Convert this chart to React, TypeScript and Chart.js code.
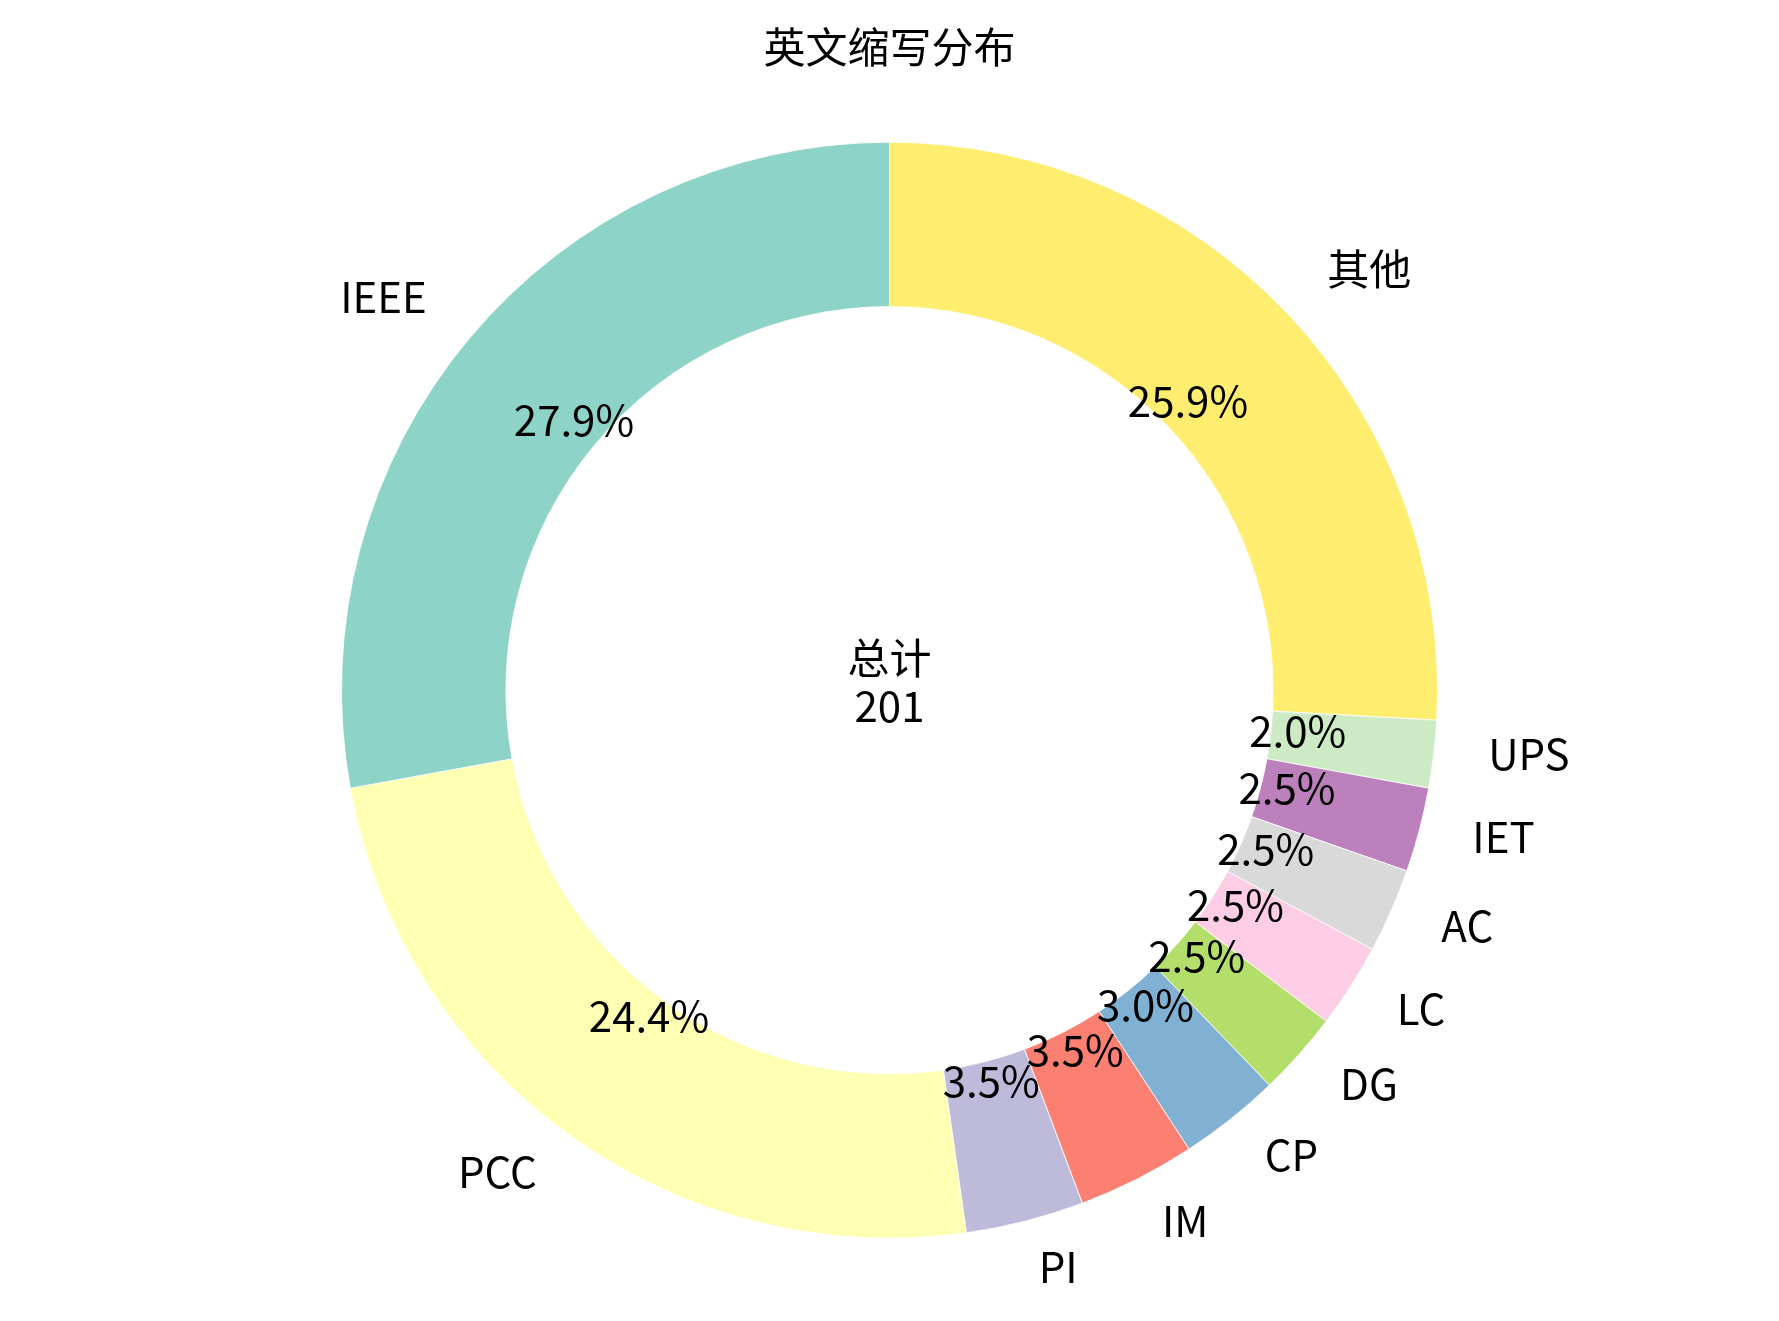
import React, { useEffect, useRef } from "react";
import { Chart, registerables } from "chart.js";

Chart.register(...registerables);

// data (counter-clockwise order, starting at the top)
const categories = ["IEEE", "PCC", "PI", "IM", "CP", "DG", "LC", "AC", "IET", "UPS", "其他"];
const counts = [56, 49, 7, 7, 6, 5, 5, 5, 5, 4, 52];
const sliceColors = [
  "#8dd3c7",
  "#ffffb3",
  "#bebada",
  "#fb8072",
  "#80b1d3",
  "#b3de69",
  "#fccde5",
  "#d9d9d9",
  "#bc80bd",
  "#ccebc5",
  "#ffed6f",
];
const chartTitle = "英文缩写分布";
const centerCaption = "总计";

const FONT = '"Noto Sans CJK SC", "Noto Sans", sans-serif';
const TEXT_SIZE = 42;

// chart.js draws clockwise, the original runs counter-clockwise -> reverse
const drawLabels = [...categories].reverse();
const drawCounts = [...counts].reverse();
const drawColors = [...sliceColors].reverse();

const ringLabels = {
  id: "ringLabels",
  afterDatasetsDraw(chart: any) {
    const ctx = chart.ctx as CanvasRenderingContext2D;
    const meta = chart.getDatasetMeta(0);
    const values = chart.data.datasets[0].data as number[];
    const sum = values.reduce((a, b) => a + b, 0);

    ctx.save();
    ctx.fillStyle = "#000";
    ctx.font = `${TEXT_SIZE}px ${FONT}`;
    ctx.textBaseline = "middle";

    let cx = 0;
    let cy = 0;
    meta.data.forEach((arc: any, i: number) => {
      const { x, y, startAngle, endAngle, outerRadius } = arc.getProps(
        ["x", "y", "startAngle", "endAngle", "outerRadius"],
        true
      );
      cx = x;
      cy = y;
      const mid = (startAngle + endAngle) / 2;
      const cos = Math.cos(mid);
      const sin = Math.sin(mid);

      const pct = ((values[i] / sum) * 100).toFixed(1) + "%";
      ctx.textAlign = "center";
      ctx.fillText(pct, x + cos * outerRadius * 0.75, y + sin * outerRadius * 0.75 - 7);

      ctx.textAlign = cos > 0 ? "left" : "right";
      ctx.fillText(
        chart.data.labels[i],
        x + cos * outerRadius * 1.1,
        y + sin * outerRadius * 1.1 - 7
      );
    });

    // total in the hole
    ctx.textAlign = "center";
    ctx.fillText(centerCaption, cx, cy - 32);
    ctx.fillText(String(sum), cx, cy + 16);
    ctx.restore();
  },
};

const App: React.FC = () => {
  const chartRef = useRef<HTMLCanvasElement | null>(null);

  useEffect(() => {
    const canvas = chartRef.current;
    if (!canvas) return;

    const chart = new Chart(canvas, {
      type: "doughnut",
      data: {
        labels: drawLabels,
        datasets: [
          {
            data: drawCounts,
            backgroundColor: drawColors,
            borderColor: "#ffffff",
            borderWidth: 0.8,
          },
        ],
      },
      options: {
        animation: false,
        responsive: false,
        cutout: "70%",
        radius: 548,
        layout: {
          padding: { top: 0, bottom: 82, left: 0, right: 0 },
        },
        plugins: {
          legend: { display: false },
          tooltip: { enabled: false },
          title: {
            display: true,
            text: chartTitle,
            color: "#000",
            font: { family: FONT, size: 42, weight: "normal", lineHeight: 1.2 },
            padding: { top: 22, bottom: 69 },
          },
        },
      },
      plugins: [ringLabels],
    });

    return () => {
      chart.destroy();
    };
  }, []);

  return (
    <div style={{ position: "fixed", left: 0, top: 0, width: 1779, height: 1321, background: "#fff" }}>
      <canvas ref={chartRef} width={1779} height={1321} />
    </div>
  );
};

export default App;
